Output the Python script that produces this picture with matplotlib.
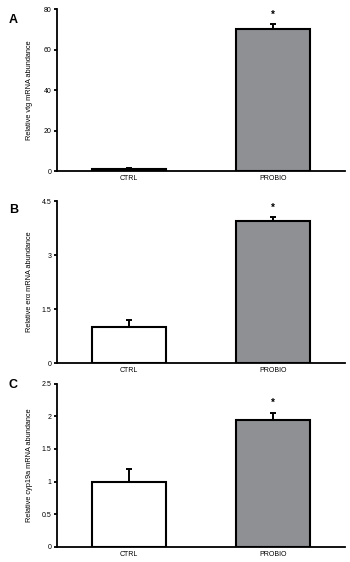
import matplotlib.pyplot as plt
import numpy as np

plt.rcParams['font.family'] = ['Liberation Sans', 'DejaVu Sans']

groups = ['CTRL', 'PROBIO']
vtg_mean = [1.0, 70.0]
vtg_err = [0.4, 2.5]
era_mean = [1.01, 3.95]
era_err = [0.18, 0.10]
cyp_mean = [1.0, 1.95]
cyp_err = [0.19, 0.10]

panels = [
    ('A', 'Relative vtg mRNA abundance', vtg_mean, vtg_err, [0, 20, 40, 60, 80], ['0', '20', '40', '60', '80']),
    ('B', 'Relative erα mRNA abundance', era_mean, era_err, [0, 1.5, 3, 4.5], ['0', '1.5', '3', '4.5']),
    ('C', 'Relative cyp19a mRNA abundance', cyp_mean, cyp_err, [0, 0.5, 1, 1.5, 2, 2.5], ['0', '0.5', '1', '1.5', '2', '2.5']),
]

# axes boxes in figure fraction [left, bottom, width, height]
boxes = [
    [0.163, 0.6957, 0.823, 0.288],
    [0.163, 0.354, 0.823, 0.2883],
    [0.163, 0.0272, 0.823, 0.290],
]
letter_y = [0.964, 0.626, 0.315]

fig = plt.figure(figsize=(3.5, 5.62), dpi=100)
fill = ['white', '#8f9093']

for (letter, ylab, mean, err, ticks, tlabels), box, ly in zip(panels, boxes, letter_y):
    ax = fig.add_axes(box)
    x = np.arange(len(groups))
    ax.bar(x, mean, width=0.51, color=fill, edgecolor='black', linewidth=1.5, zorder=2)
    ax.errorbar(x, mean, yerr=[[0] * len(err), err], fmt='none', ecolor='black',
                elinewidth=1.4, capsize=2, capthick=1.4, zorder=1)
    # significance mark
    ax.text(1, mean[1] + err[1] + ticks[-1] * 0.03, '*', ha='center', va='bottom',
            fontsize=7, fontweight='bold')
    ax.set_xlim(-0.5, 1.5)
    ax.set_ylim(0, ticks[-1])
    ax.set_yticks(ticks)
    ax.set_yticklabels(tlabels)
    ax.set_xticks(x)
    ax.set_xticklabels(groups)
    ax.spines['top'].set_visible(False)
    ax.spines['right'].set_visible(False)
    ax.spines['left'].set_linewidth(1.3)
    ax.spines['bottom'].set_linewidth(1.3)
    ax.tick_params(axis='y', direction='out', length=2.5, width=1.3, labelsize=5, pad=1.5)
    ax.tick_params(axis='x', length=0, labelsize=5, pad=3)
    ax.set_ylabel(ylab, fontsize=5.3)
    ax.yaxis.set_label_coords(-0.082, 0.5)
    fig.text(0.025, ly, letter, fontsize=9, fontweight='bold', ha='left', va='center')

fig.savefig('out.png', dpi=100)
